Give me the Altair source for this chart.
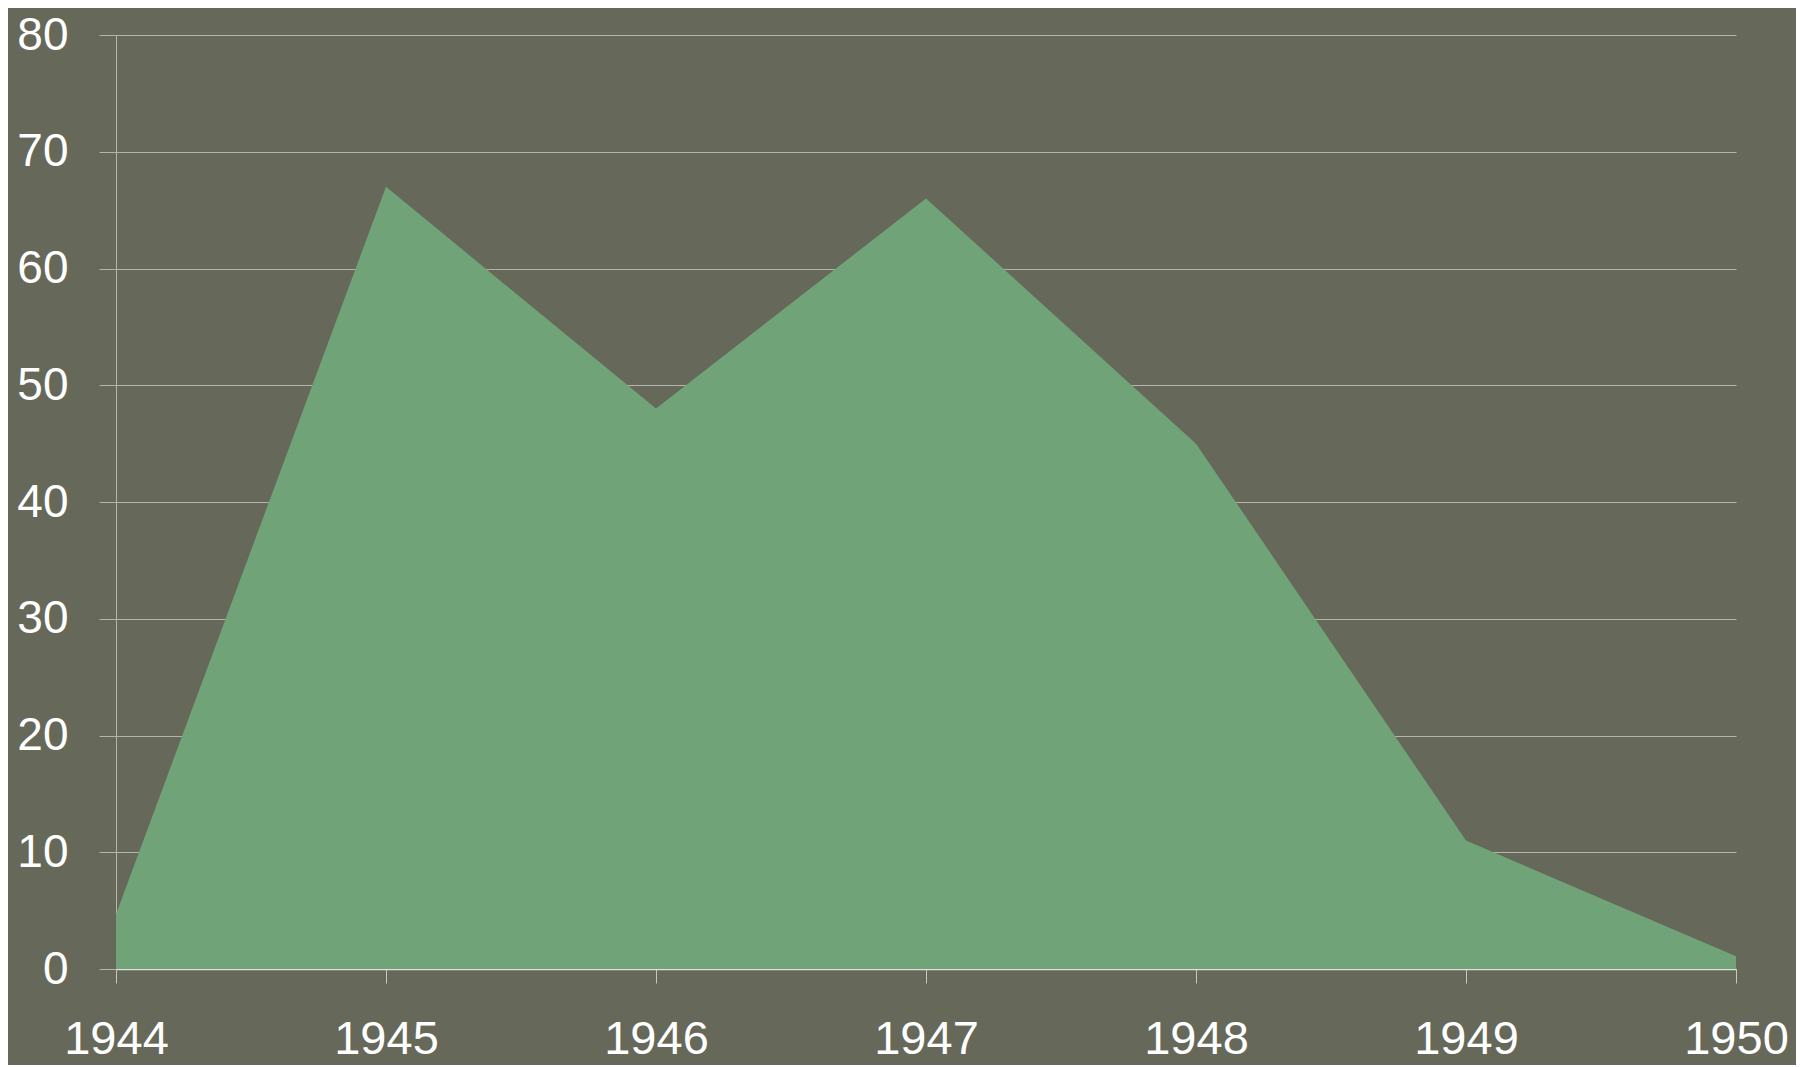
import altair as alt
import pandas as pd

years = [1944, 1945, 1946, 1947, 1948, 1949, 1950]
values = [4.7, 67, 48, 66, 45, 11, 1.1]
y_ticks = [0, 10, 20, 30, 40, 50, 60, 70, 80]

df = pd.DataFrame({"year": years, "value": values})

bg = "#66685a"

chart = alt.Chart(df).mark_area(color="#70a478", opacity=1).encode(
    x=alt.X("year:Q", scale=alt.Scale(domain=[1944, 1950], nice=False),
            axis=alt.Axis(values=years, format="d", title=None, grid=False,
                          tickSize=14, tickColor="#c8c8c0", domainColor="#e0e0d8",
                          labelFontSize=47, labelColor="white", labelFont="Liberation Sans",
                          labelPadding=33, labelFlush=False, domainWidth=1.5)),
    y=alt.Y("value:Q", scale=alt.Scale(domain=[0, 80], nice=False),
            axis=alt.Axis(values=y_ticks, title=None, grid=True, gridColor="#b4b4ac",
                          gridWidth=1, tickSize=17, tickColor="#b4b4ac", domainColor="#b4b4ac",
                          labelFontSize=46, labelColor="white", labelFont="Liberation Sans",
                          labelPadding=31, labelFlush=False, labelBaseline="middle")),
).properties(
    width=1620, height=934, background=bg,
    padding={"left": 108, "top": 27, "right": 60, "bottom": 96},
    autosize=alt.AutoSizeParams(type="none"),
).configure_view(stroke=None)

chart.save("out.html", embed_options={"renderer": "svg", "actions": False})
